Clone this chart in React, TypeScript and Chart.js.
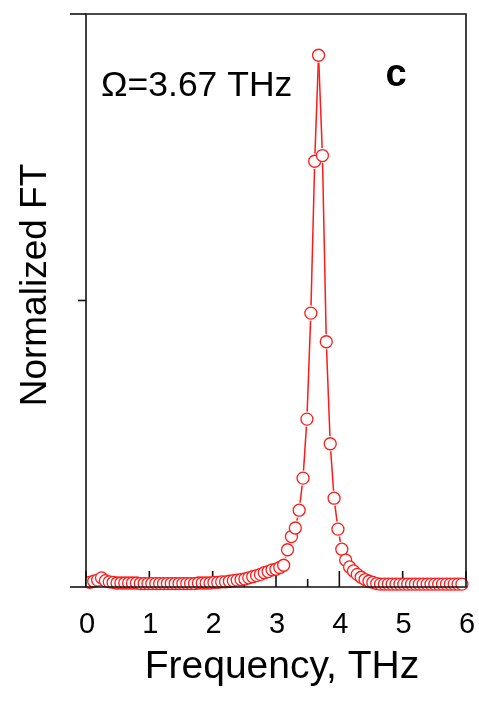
import React, { useEffect, useRef } from "react";
import { Chart, registerables } from "chart.js";

Chart.register(...registerables);

// Frequency (THz) of each FT sample
const frequencies = [
  0.061, 0.122, 0.184, 0.245, 0.306, 0.367, 0.428, 0.49, 0.551, 0.612,
  0.673, 0.734, 0.796, 0.857, 0.918, 0.979, 1.04, 1.102, 1.163, 1.224,
  1.285, 1.346, 1.408, 1.469, 1.53, 1.591, 1.652, 1.714, 1.775, 1.836,
  1.897, 1.958, 2.02, 2.081, 2.142, 2.203, 2.264, 2.326, 2.387, 2.448,
  2.509, 2.57, 2.632, 2.693, 2.754, 2.815, 2.876, 2.938, 2.999, 3.06,
  3.121, 3.182, 3.244, 3.305, 3.366, 3.427, 3.488, 3.55, 3.611, 3.672,
  3.733, 3.794, 3.856, 3.917, 3.978, 4.039, 4.1, 4.162, 4.223, 4.284,
  4.345, 4.406, 4.468, 4.529, 4.59, 4.651, 4.712, 4.774, 4.835, 4.896,
  4.957, 5.018, 5.08, 5.141, 5.202, 5.263, 5.324, 5.386, 5.447, 5.508,
  5.569, 5.63, 5.692, 5.753, 5.814, 5.875, 5.936,
];

// Normalized FT amplitude
const amplitudes = [
  0.008, 0.01, 0.012, 0.016, 0.011, 0.009, 0.008, 0.007, 0.007, 0.007,
  0.007, 0.007, 0.007, 0.006, 0.006, 0.006, 0.006, 0.006, 0.006, 0.006,
  0.006, 0.006, 0.006, 0.006, 0.006, 0.006, 0.006, 0.006, 0.007, 0.007,
  0.007, 0.007, 0.008, 0.008, 0.009, 0.009, 0.01, 0.011, 0.012, 0.013,
  0.014, 0.016, 0.018, 0.02, 0.022, 0.025, 0.027, 0.03, 0.031, 0.034,
  0.038, 0.065, 0.088, 0.103, 0.134, 0.19, 0.293, 0.478, 0.743, 0.928,
  0.753, 0.428, 0.25, 0.155, 0.101, 0.066, 0.047, 0.035, 0.028, 0.022,
  0.017, 0.013, 0.01, 0.008, 0.006, 0.005, 0.005, 0.005, 0.005, 0.005,
  0.005, 0.005, 0.005, 0.005, 0.005, 0.005, 0.005, 0.005, 0.005, 0.005,
  0.005, 0.005, 0.005, 0.005, 0.005, 0.005, 0.005,
];

const xTickLabels = ["0", "1", "2", "3", "4", "5", "6"];
const xMinorTicks = [0.5, 1.5, 2.5, 3.5, 4.5, 5.5];
const yMajorTicks = [0, 1];
const yMinorTicks = [0.5];

const xTitle = "Frequency, THz";
const yTitle = "Normalized FT";
const annotation = "\u03A9=3.67 THz";
const panelLabel = "c";

const RED = "#ff1a1a";
const AXIS = "#111111";
const FONT = '"Liberation Sans", Arial, sans-serif';

const decorPlugin = {
  id: "decor",
  beforeDatasetsDraw(chart: any) {
    const ctx = chart.ctx;
    const xs = chart.scales.x;
    const area = chart.chartArea;
    ctx.save();
    // inward x ticks
    ctx.strokeStyle = AXIS;
    ctx.lineWidth = 1.6;
    xTickLabels.forEach((t) => {
      const px = xs.getPixelForValue(Number(t));
      ctx.beginPath();
      ctx.moveTo(px, area.bottom);
      ctx.lineTo(px, area.bottom - 16);
      ctx.stroke();
    });
    xMinorTicks.forEach((v) => {
      const px = xs.getPixelForValue(v);
      ctx.beginPath();
      ctx.moveTo(px, area.bottom);
      ctx.lineTo(px, area.bottom - 8);
      ctx.stroke();
    });
    // connecting line with gaps at markers
    const pts = chart.getDatasetMeta(0).data;
    ctx.strokeStyle = RED;
    ctx.lineWidth = 1.5;
    const gap = 7.5;
    for (let k = 0; k < pts.length - 1; k++) {
      const a = pts[k];
      const b = pts[k + 1];
      const dx = b.x - a.x;
      const dy = b.y - a.y;
      const d = Math.hypot(dx, dy);
      if (d <= 2 * gap) continue;
      const ux = dx / d;
      const uy = dy / d;
      ctx.beginPath();
      ctx.moveTo(a.x + ux * gap, a.y + uy * gap);
      ctx.lineTo(b.x - ux * gap, b.y - uy * gap);
      ctx.stroke();
    }
    ctx.restore();
  },
  afterDraw(chart: any) {
    const ctx = chart.ctx;
    const xs = chart.scales.x;
    const ys = chart.scales.y;
    const area = chart.chartArea;
    ctx.save();
    // frame
    ctx.strokeStyle = AXIS;
    ctx.lineWidth = 1.6;
    ctx.beginPath();
    ctx.moveTo(area.left, area.top);
    ctx.lineTo(area.right, area.top);
    ctx.lineTo(area.right, area.bottom);
    ctx.lineTo(area.left, area.bottom);
    ctx.closePath();
    ctx.stroke();
    // outward y ticks
    yMajorTicks.forEach((v) => {
      const py = ys.getPixelForValue(v);
      ctx.beginPath();
      ctx.moveTo(area.left, py);
      ctx.lineTo(area.left - 16, py);
      ctx.stroke();
    });
    yMinorTicks.forEach((v) => {
      const py = ys.getPixelForValue(v);
      ctx.beginPath();
      ctx.moveTo(area.left, py);
      ctx.lineTo(area.left - 8, py);
      ctx.stroke();
    });
    // text
    ctx.fillStyle = "#000";
    ctx.textBaseline = "alphabetic";
    ctx.textAlign = "center";
    ctx.font = `29px ${FONT}`;
    xTickLabels.forEach((t) => {
      const px = xs.getPixelForValue(Number(t));
      ctx.fillText(t, px + 1, area.bottom + 46);
    });
    ctx.font = `39px ${FONT}`;
    ctx.fillText(xTitle, (area.left + area.right) / 2 + 6, area.bottom + 91);

    ctx.save();
    ctx.translate(46, ys.getPixelForValue(0.527));
    ctx.rotate(-Math.PI / 2);
    ctx.font = `37px ${FONT}`;
    ctx.textAlign = "center";
    ctx.fillText(yTitle, 0, 0);
    ctx.restore();

    ctx.textAlign = "left";
    ctx.font = `35.5px ${FONT}`;
    ctx.fillText(annotation, area.left + 15, area.top + 82);

    ctx.textAlign = "center";
    ctx.font = `bold 38px ${FONT}`;
    ctx.fillText(panelLabel, 396, area.top + 72);
    ctx.restore();
  },
};

export default function App() {
  const canvasRef = useRef<HTMLCanvasElement | null>(null);

  useEffect(() => {
    const canvas = canvasRef.current;
    if (!canvas) return;
    const points = frequencies.map((f, i) => ({ x: f, y: amplitudes[i] }));
    const chart = new Chart(canvas, {
      type: "scatter",
      data: {
        datasets: [
          {
            data: points,
            showLine: false,
            pointRadius: 6,
            pointHoverRadius: 6,
            pointBorderWidth: 1.3,
            pointBorderColor: RED,
            pointBackgroundColor: "#ffffff",
            clip: { left: 0, right: 12, top: 12, bottom: 12 } as any,
          },
        ],
      },
      options: {
        animation: false,
        responsive: true,
        maintainAspectRatio: false,
        layout: { padding: { left: 86, right: 13, top: 14, bottom: 120 } },
        plugins: {
          legend: { display: false },
          tooltip: { enabled: false },
          title: { display: false },
        },
        events: [],
        scales: {
          x: { type: "linear", min: 0, max: 6, display: false },
          y: { type: "linear", min: 0, max: 1, display: false },
        },
      },
      plugins: [decorPlugin],
    });
    return () => chart.destroy();
  }, []);

  return (
    <div
      style={{
        position: "fixed",
        left: 0,
        top: 0,
        width: 479,
        height: 707,
        background: "#ffffff",
      }}
    >
      <canvas ref={canvasRef} />
    </div>
  );
}
